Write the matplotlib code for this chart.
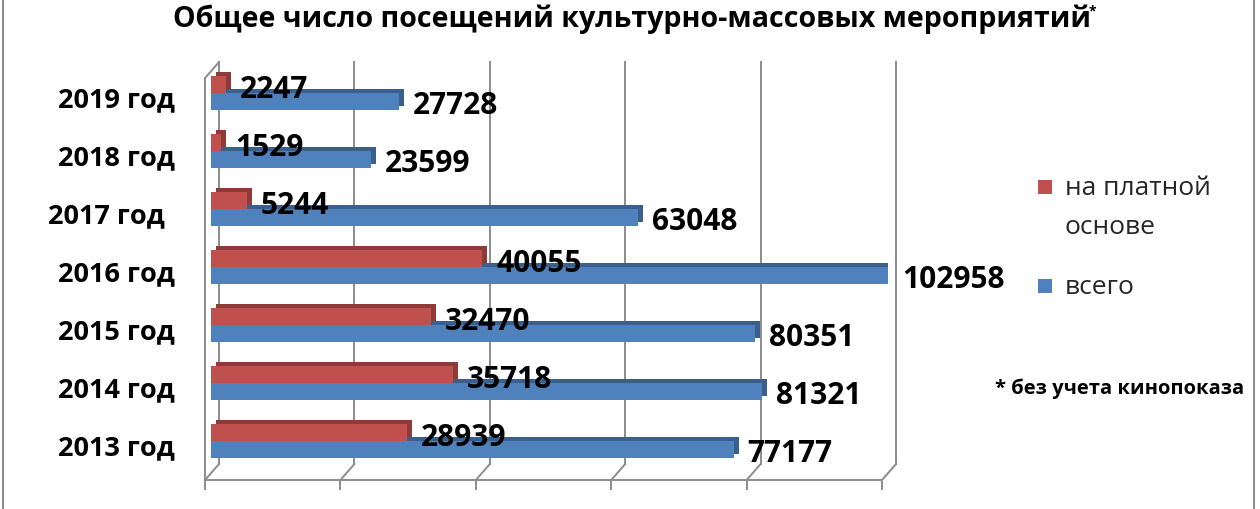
import matplotlib
matplotlib.use("Agg")
import matplotlib.pyplot as plt
from matplotlib.transforms import offset_copy, IdentityTransform
from matplotlib.patches import Rectangle
from matplotlib.lines import Line2D

years = ["2013 год", "2014 год", "2015 год", "2016 год", "2017 год", "2018 год", "2019 год"]
paid = [28939, 35718, 32470, 40055, 5244, 1529, 2247]
total = [77177, 81321, 80351, 102958, 63048, 23599, 27728]
legend_labels = ["на платной\nоснове", "всего"]
title = "Общее число посещений культурно-массовых мероприятий"
note = "* без учета кинопоказа"

x_max = 100000
x_step = 20000

RED, RED_DARK = "#C0504D", "#8E3A38"
BLUE, BLUE_DARK = "#4F81BD", "#3A5F8C"
GRID = "#8C8C8C"
FONT = ["Open Sans", "DejaVu Sans"]
plt.rcParams["font.family"] = FONT

fig = plt.figure(figsize=(12.6, 5.1), dpi=100)
ax = fig.add_axes([0.1675, 0.0765, 0.5373, 0.796])
ax.set_xlim(0, x_max)
ax.set_ylim(-0.5, len(years) - 0.5)
ax.axis("off")

h = 0.29
ypos = list(range(len(years)))
y_red = [y + h / 2 for y in ypos]
y_blue = [y - h / 2 for y in ypos]

# back wall gridlines
back = offset_copy(ax.get_xaxis_transform(), fig=fig, x=8, y=0, units="dots")
for v in range(0, x_max + 1, x_step):
    ax.plot([v, v], [0.015, 1.005], transform=back, color=GRID, lw=1.4,
            zorder=0, clip_on=False)

# extruded depth of bars (shifted copy behind the front face)
depth = offset_copy(ax.transData, fig=fig, x=5, y=4, units="dots")
for vals, ys, dark in [(paid, y_red, RED_DARK), (total, y_blue, BLUE_DARK)]:
    for v, y in zip(vals, ys):
        ax.add_patch(Rectangle((0, y - h / 2), min(v, x_max), h,
                               transform=depth, color=dark, lw=0, zorder=2))

ax.barh(y_blue, total, height=h, color=BLUE, zorder=3)
ax.barh(y_red, paid, height=h, color=RED, zorder=3)

# value labels
lab_red = offset_copy(ax.transData, fig=fig, x=14, y=-4, units="dots")
lab_blue = offset_copy(ax.transData, fig=fig, x=14, y=-4, units="dots")
for v, y in zip(paid, y_red):
    ax.text(min(v, x_max), y, str(v), transform=lab_red, ha="left", va="center",
            fontsize=21.5, fontweight="bold", zorder=5, clip_on=False)
for v, y in zip(total, y_blue):
    ax.text(min(v, x_max), y, str(v), transform=lab_blue, ha="left", va="center",
            fontsize=21.5, fontweight="bold", zorder=5, clip_on=False)

# category labels
for i, name in enumerate(years):
    dx = -46 if name.startswith("2017") else -36
    t = offset_copy(ax.transData, fig=fig, x=dx, y=-6, units="dots")
    ax.text(0, i, name, transform=t, ha="right", va="center",
            fontsize=19.5, fontweight="bold")

# 3d floor and side wall (pixel offsets from the plot box)
fig.canvas.draw()
xt = ax.get_xaxis_transform()
def pt(v, ya, dx, dy):
    x, y = xt.transform((v, ya))
    return x + dx, y + dy

segs = []
for v in range(0, x_max + 1, x_step):
    segs.append([pt(v, 0, 8, 6), pt(v, 0, -6, -10)])
    segs.append([pt(v, 0, -6, -10), pt(v, 0, -6, -19)])
segs.append([pt(0, 0, -6, -10), pt(x_max, 0, -6, -10)])
segs.append([pt(0, 0, -6, -10), pt(0, 1, -6, -14)])
segs.append([pt(0, 1, -6, -14), pt(0, 1, 8, 2)])
for a, b in segs:
    fig.add_artist(Line2D([a[0], b[0]], [a[1], b[1]], transform=IdentityTransform(),
                          color=GRID, lw=1.4, zorder=1))

# title
fig.text(0.137, 0.963, title, ha="left", va="center", fontsize=20.6, fontweight="bold")
fig.text(0.864, 0.978, "*", ha="left", va="center", fontsize=10, fontweight="bold")

# legend (drawn by hand to get the two-line spacing of the original)
for color, yf in [(RED, 0.631), (BLUE, 0.437)]:
    fig.add_artist(Rectangle((0.8235, yf - 0.0137), 0.0111, 0.0274,
                             transform=fig.transFigure, color=color, lw=0))
first, second = legend_labels[0].split("\n")
fig.text(0.845, 0.631, first, ha="left", va="center", fontsize=19, color="#262626")
fig.text(0.845, 0.553, second, ha="left", va="center", fontsize=19, color="#262626")
fig.text(0.845, 0.437, legend_labels[1], ha="left", va="center",
         fontsize=19, color="#262626")

fig.text(0.79, 0.238, note, ha="left", va="center", fontsize=14.5, fontweight="bold")

# outer frame
fig.add_artist(Rectangle((0.0025, -0.01), 0.993, 1.02, transform=fig.transFigure,
                         fill=False, edgecolor="#8C8C8C", lw=1.5))

fig.savefig("out.png", dpi=100)
